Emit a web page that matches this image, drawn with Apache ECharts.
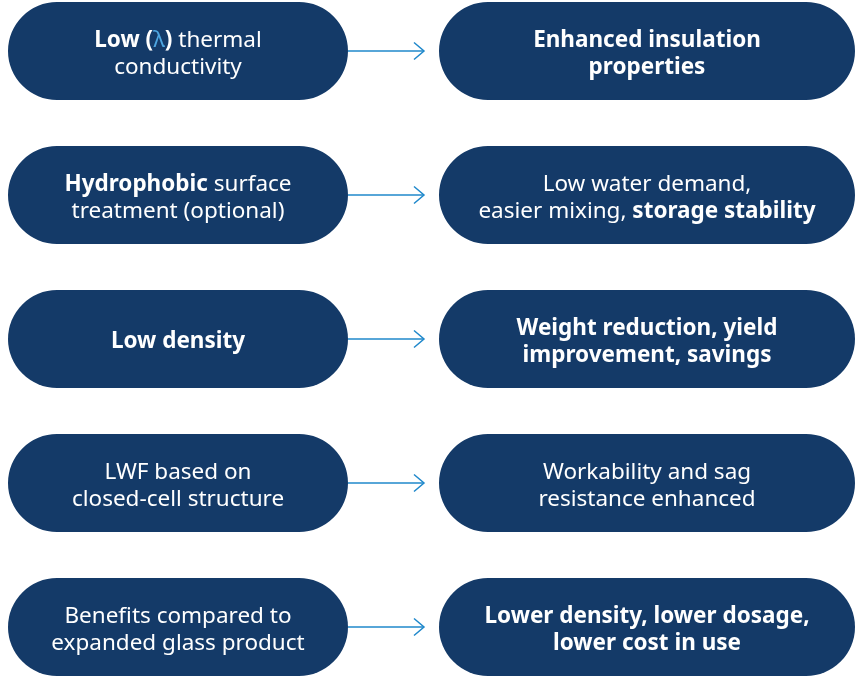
<!DOCTYPE html>
<html><head><meta charset="utf-8">
<script src="https://cdn.jsdelivr.net/npm/echarts@6/dist/echarts.min.js"></script>
<style>html,body{margin:0;padding:0;background:#fff}#c{width:857px;height:677px}</style>
</head><body><div id="c"></div>
<script>
const rows = ['row1', 'row2', 'row3', 'row4', 'row5'];
const features = [
  '{b|Low (}{l|λ}{b|)} thermal\nconductivity',
  '{b|Hydrophobic} surface\ntreatment (optional)',
  '{b|Low density}',
  'LWF based on\nclosed-cell structure',
  'Benefits compared to\nexpanded glass product'
];
const benefits = [
  '{b|Enhanced insulation}\n{b|properties}',
  'Low water demand,\neasier mixing, {b|storage stability}',
  '{b|Weight reduction, yield}\n{b|improvement, savings}',
  'Workability and sag\nresistance enhanced',
  '{b|Lower density, lower dosage,}\n{b|lower cost in use}'
];

const NAVY = '#143a68', ARROW = '#1f88cb', LAMBDA = '#4ea6e0';
const FONT = '"Noto Sans", "Open Sans", sans-serif';
const FS = 22.5, LH = 27;
const COLS = [[8, 348], [439, 855]];   // column extents on the hidden x axis
const PILL_FRAC = 0.68;                  // pill height relative to row pitch

const rich = {
  b: { fontWeight: 'bold', fontSize: FS, lineHeight: LH, fontFamily: FONT, fill: '#fff' },
  l: { fontWeight: 'normal', fontSize: FS, lineHeight: LH, fontFamily: FONT, fill: LAMBDA }
};

function pillRenderer(col, texts) {
  return function (params, api) {
    const r = api.value(1);
    const p0 = api.coord([COLS[col][0], r]);
    const p1 = api.coord([COLS[col][1], r]);
    const pitch = Math.abs(api.coord([0, 1])[1] - api.coord([0, 0])[1]);
    const h = pitch * PILL_FRAC;
    return {
      type: 'group',
      children: [
        { type: 'rect', shape: { x: p0[0], y: p0[1] - h / 2, width: p1[0] - p0[0], height: h, r: h / 2 },
          style: { fill: NAVY } },
        { type: 'text', x: (p0[0] + p1[0]) / 2, y: p0[1] + 3,
          style: { text: texts[params.dataIndex], rich: rich, fill: '#fff', fontSize: FS, lineHeight: LH,
                   fontFamily: FONT, align: 'center', verticalAlign: 'middle' } }
      ]
    };
  };
}

function arrowRenderer(params, api) {
  const r = api.value(1);
  const a = api.coord([COLS[0][1], r]);
  const b = api.coord([424, r]);
  return {
    type: 'group',
    children: [
      { type: 'line', shape: { x1: a[0], y1: a[1], x2: b[0] - 1, y2: b[1] },
        style: { stroke: ARROW, lineWidth: 1.5 } },
      { type: 'polyline', shape: { points: [[b[0] - 10, b[1] - 8.5], [b[0], b[1]], [b[0] - 10, b[1] + 8.5]] },
        style: { stroke: ARROW, lineWidth: 1.5, fill: null } }
    ]
  };
}

const rowData = rows.map((r, i) => [0, i]);

const chart = echarts.init(document.getElementById('c'));
chart.setOption({
  animation: false,
  grid: { left: 0, right: 0, top: 51, bottom: 50 },
  xAxis: { type: 'value', min: 0, max: 857, show: false },
  yAxis: { type: 'category', data: rows, inverse: true, boundaryGap: false, show: false },
  series: [
    { type: 'custom', renderItem: arrowRenderer, data: rowData, silent: true },
    { type: 'custom', renderItem: pillRenderer(0, features), data: rowData, silent: true },
    { type: 'custom', renderItem: pillRenderer(1, benefits), data: rowData, silent: true }
  ]
});
</script>
</body></html>
